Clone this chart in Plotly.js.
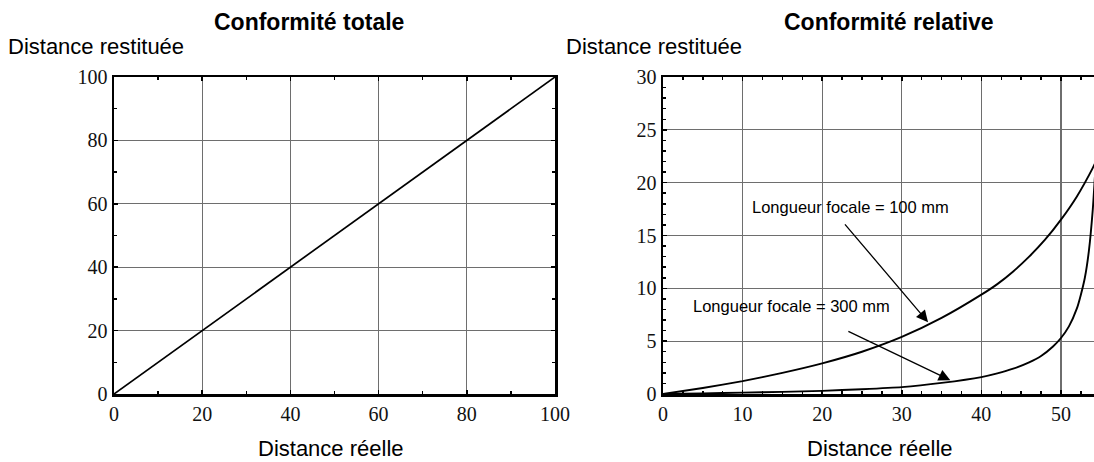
<!DOCTYPE html>
<html>
<head>
<meta charset="utf-8">
<script src="https://cdn.plot.ly/plotly-3.0.1.min.js"></script>
<style>
  html, body { margin: 0; padding: 0; background: #fff; }
  #chart { width: 1094px; height: 462px; }
</style>
</head>
<body>
<div id="chart"></div>
<script>
// Conformité totale : distance restituée = distance réelle
const totalX = [0, 100];
const totalY = [0, 100];

// Conformité relative, longueur focale 100 mm
const focal100X = [0, 5, 10, 15, 20, 25, 30, 35, 40, 42, 44, 46, 48, 50, 52, 54, 55];
const focal100Y = [0, 0.57, 1.22, 2.0, 2.9, 4.0, 5.4, 7.2, 9.4, 10.4, 11.6, 13.0, 14.6, 16.5, 18.7, 21.4, 23.0];

// Conformité relative, longueur focale 300 mm
const focal300X = [0, 5, 10, 15, 20, 25, 30, 35, 40, 42, 44, 46, 47.5, 49, 50, 51, 52, 52.5, 53, 53.5, 54, 54.3];
const focal300Y = [0, 0.06, 0.13, 0.2, 0.3, 0.45, 0.65, 1.05, 1.6, 1.95, 2.4, 3.0, 3.6, 4.5, 5.3, 6.4, 8.1, 9.4, 11.0, 13.5, 17.5, 21.0];

// Libellés
const titleLeft = 'Conformité totale';
const titleRight = 'Conformité relative';
const yLabel = 'Distance restituée';
const xLabel = 'Distance réelle';
const label100 = 'Longueur focale = 100 mm';
const label300 = 'Longueur focale = 300 mm';

// Flèches : départ sous chaque libellé, pointe sur la courbe correspondante
const arrow100 = { tail: [22.7, 16.2], head: [33.3, 6.8] };
const arrow300 = { tail: [23.1, 6.0], head: [36.1, 1.3] };

const sans = 'Liberation Sans, Arial, Helvetica, sans-serif';
const serif = 'Liberation Serif, Times New Roman, serif';

const lineStyle = { color: '#000', width: 1.9 };

const traces = [
  { x: totalX, y: totalY, xaxis: 'x', yaxis: 'y', mode: 'lines',
    line: { color: '#000', width: 1.7 }, hoverinfo: 'skip' },
  { x: focal100X, y: focal100Y, xaxis: 'x2', yaxis: 'y2', mode: 'lines',
    line: Object.assign({ shape: 'spline', smoothing: 0.5 }, lineStyle), hoverinfo: 'skip' },
  { x: focal300X, y: focal300Y, xaxis: 'x2', yaxis: 'y2', mode: 'lines',
    line: Object.assign({ shape: 'spline', smoothing: 0.5 }, lineStyle), hoverinfo: 'skip' }
];

function axisBase(extra) {
  return Object.assign({
    showline: true, linecolor: '#000', linewidth: 2.5,
    ticks: 'inside', ticklen: 4, tickwidth: 1.5, tickcolor: '#000',
    showgrid: true, gridcolor: '#6e6e6e', gridwidth: 1.1,
    zeroline: false, fixedrange: true,
    tickfont: { family: serif, size: 20, color: '#111' }
  }, extra);
}

function minorTicks(step) {
  return { dtick: step, ticks: 'inside', ticklen: 3, tickwidth: 1.5, tickcolor: '#000', showgrid: false };
}

const layout = {
  width: 1094, height: 462,
  margin: { l: 0, r: 0, t: 0, b: 0 },
  paper_bgcolor: '#fff', plot_bgcolor: '#fff',
  showlegend: false,
  xaxis: axisBase({ domain: [114 / 1094, 555 / 1094], range: [0, 100], dtick: 20, mirror: 'ticks', anchor: 'y',
    minor: minorTicks(10) }),
  yaxis: axisBase({ domain: [68 / 462, 385 / 462], range: [0, 100], dtick: 20, mirror: 'ticks', anchor: 'x',
    minor: minorTicks(10) }),
  xaxis2: axisBase({ domain: [663 / 1094, 1], range: [0, 54.15], dtick: 10, mirror: 'ticks', anchor: 'y2',
    minor: minorTicks(2.5) }),
  yaxis2: axisBase({ domain: [68 / 462, 385 / 462], range: [0, 30], dtick: 5, mirror: false, anchor: 'x2',
    minor: minorTicks(1) }),
  annotations: [
    { text: '<b>' + titleLeft + '</b>', xref: 'paper', yref: 'paper', x: 309 / 1094, y: 1 - 22 / 462,
      xanchor: 'center', yanchor: 'middle', showarrow: false, font: { family: sans, size: 23, color: '#000' } },
    { text: '<b>' + titleRight + '</b>', xref: 'paper', yref: 'paper', x: 889 / 1094, y: 1 - 22 / 462,
      xanchor: 'center', yanchor: 'middle', showarrow: false, font: { family: sans, size: 23, color: '#000' } },
    { text: yLabel, xref: 'paper', yref: 'paper', x: 6 / 1094, y: 1 - 47 / 462,
      xanchor: 'left', yanchor: 'middle', showarrow: false, font: { family: sans, size: 22, color: '#000' } },
    { text: yLabel, xref: 'paper', yref: 'paper', x: 564 / 1094, y: 1 - 47 / 462,
      xanchor: 'left', yanchor: 'middle', showarrow: false, font: { family: sans, size: 22, color: '#000' } },
    { text: xLabel, xref: 'paper', yref: 'paper', x: 331 / 1094, y: 1 - 448 / 462,
      xanchor: 'center', yanchor: 'middle', showarrow: false, font: { family: sans, size: 22, color: '#000' } },
    { text: xLabel, xref: 'paper', yref: 'paper', x: 880 / 1094, y: 1 - 448 / 462,
      xanchor: 'center', yanchor: 'middle', showarrow: false, font: { family: sans, size: 22, color: '#000' } },
    { text: label100, xref: 'x2', yref: 'y2', x: 10.9, y: 17.7,
      xanchor: 'left', yanchor: 'middle', showarrow: false, font: { family: sans, size: 16.5, color: '#000' } },
    { text: label300, xref: 'x2', yref: 'y2', x: 3.5, y: 8.33,
      xanchor: 'left', yanchor: 'middle', showarrow: false, font: { family: sans, size: 16.5, color: '#000' } },
    { text: '', xref: 'x2', yref: 'y2', axref: 'x2', ayref: 'y2',
      x: arrow100.head[0], y: arrow100.head[1], ax: arrow100.tail[0], ay: arrow100.tail[1],
      showarrow: true, arrowhead: 2, arrowsize: 1.8, arrowwidth: 1.3, arrowcolor: '#000' },
    { text: '', xref: 'x2', yref: 'y2', axref: 'x2', ayref: 'y2',
      x: arrow300.head[0], y: arrow300.head[1], ax: arrow300.tail[0], ay: arrow300.tail[1],
      showarrow: true, arrowhead: 2, arrowsize: 1.8, arrowwidth: 1.3, arrowcolor: '#000' }
  ]
};

Plotly.newPlot('chart', traces, layout, { staticPlot: true, displayModeBar: false });
</script>
</body>
</html>
